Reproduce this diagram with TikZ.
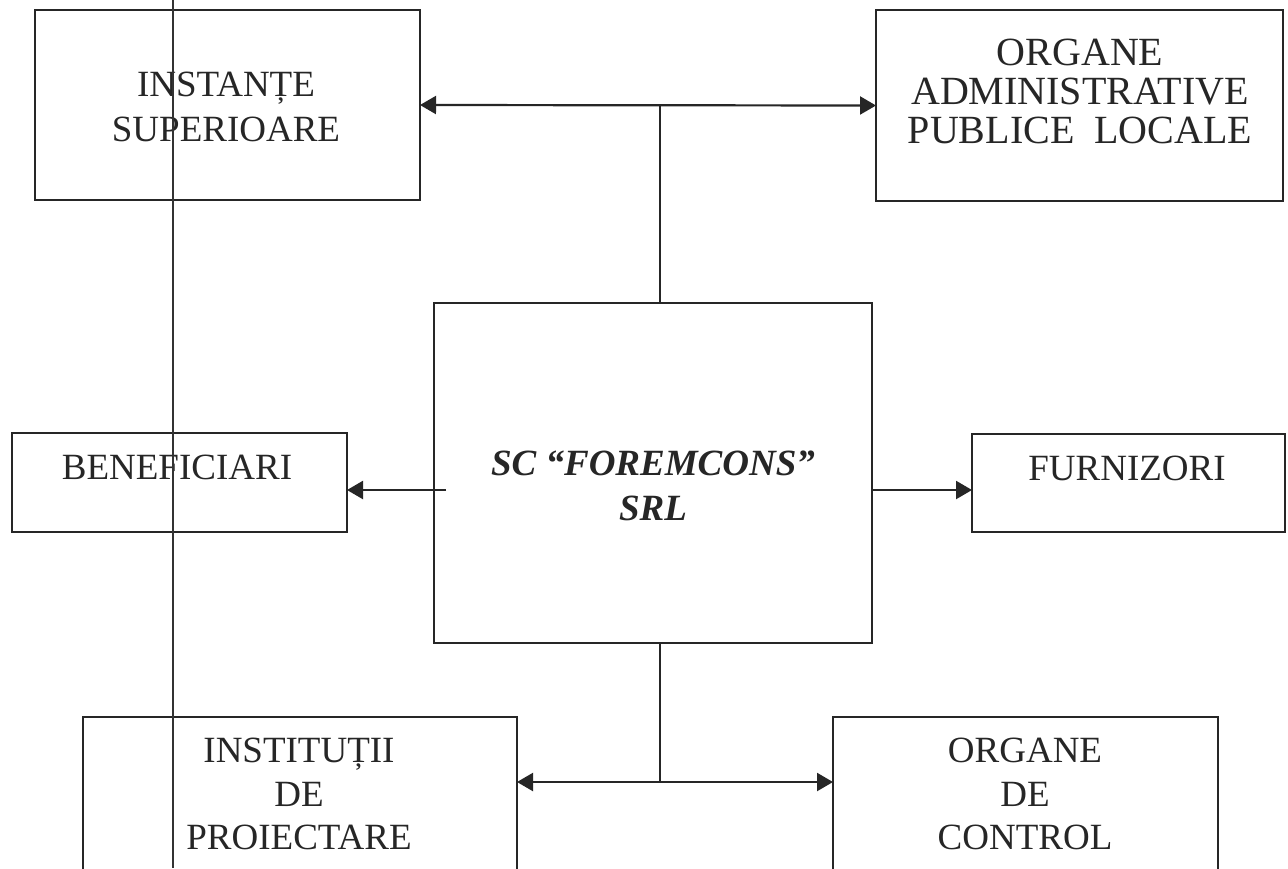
\documentclass[tikz,border=0pt]{standalone}
\usepackage{fontspec}
\setmainfont{Liberation Serif}
\usetikzlibrary{arrows.meta}
\begin{document}
\begin{tikzpicture}[x=0.5pt,y=-0.5pt,
  box/.style={draw=black!85, line width=1.2pt, inner sep=0pt, outer sep=0pt, rectangle},
  lbl/.style={inner sep=0pt, align=center, text=black!85, font=\fontsize{18.5pt}{22.5pt}\selectfont},
  conn/.style={draw=black!85, line width=1.1pt},
  arr/.style={conn, -{Triangle[length=8pt,width=9pt]}},
  darr/.style={conn, {Triangle[length=8pt,width=9pt]}-{Triangle[length=8pt,width=9pt]}},
  thin line/.style={draw=black!80, line width=0.75pt}]
\clip (0,0) rectangle (1288,868);
\fill[white] (0,0) rectangle (1288,868);
% boxes
\node[box, minimum width=192.5pt, minimum height=95pt]  (inst) at (227.5,105) {};
\node[box, minimum width=203.5pt, minimum height=95.5pt] (adm) at (1079.5,105.5) {};
\node[box, minimum width=219pt, minimum height=170pt]  (ctr) at (653,473) {};
\node[box, minimum width=167.5pt, minimum height=49.5pt] (ben) at (179.5,482.5) {};
\node[box, minimum width=156.5pt, minimum height=49pt]  (fur) at (1128.5,483) {};
\node[box, minimum width=217pt, minimum height=91.5pt]  (ins) at (300,808.5) {};
\node[box, minimum width=192.5pt, minimum height=91.5pt] (ctl) at (1025.5,808.5) {};
% labels
\node[lbl] (tinst) at (226,107) {INSTANȚE\\SUPERIOARE};
\node[lbl, font=\fontsize{20pt}{19.5pt}\selectfont] (tadm) at (1080,91) {ORGANE\\ADMINISTRATIVE\\PUBLICE~~LOCALE};
\node[lbl, font=\fontsize{18.5pt}{22.5pt}\selectfont\bfseries\itshape] (tctr) at (653,485.5) {SC “FOREMCONS”\\SRL};
\node[lbl] (tben) at (177,467) {BENEFICIARI};
\node[lbl] (tfur) at (1127,468) {FURNIZORI};
\node[lbl, font=\fontsize{18.5pt}{21.75pt}\selectfont] (tins) at (299,794) {INSTITUȚII\\DE\\PROIECTARE};
\node[lbl, font=\fontsize{18.5pt}{21.75pt}\selectfont] (tctl) at (1025,794) {ORGANE\\DE\\CONTROL};
% connectors
\coordinate (jt) at (660,105);
\draw[conn] (ctr.north -| jt) -- (jt);
\draw[darr] (inst.east) -- (adm.west);
\coordinate (jb) at (660,782);
\draw[conn] (ctr.south -| jb) -- (jb);
\draw[darr] (ins.east |- jb) -- (ctl.west |- jb);
\coordinate (bl) at (446,490);
\draw[arr] (bl) -- (ben.east |- bl);
\coordinate (fr) at (873,490);
\draw[arr] (fr) -- (fur.west |- fr);
% long vertical line
\coordinate (vt) at (173,0);
\coordinate (vb) at (173,868);
\draw[thin line] (vt) -- (vb);
\end{tikzpicture}
\end{document}
